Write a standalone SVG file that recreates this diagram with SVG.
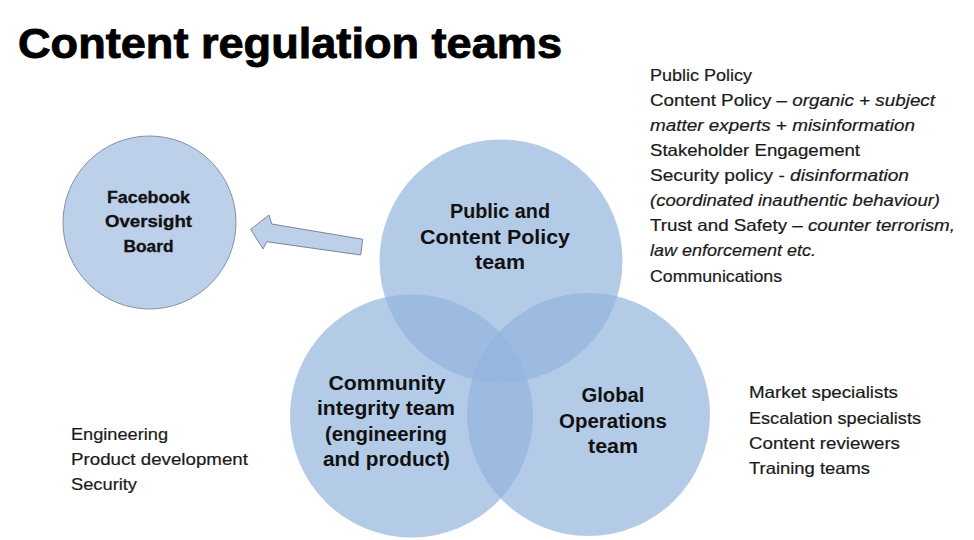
<svg xmlns="http://www.w3.org/2000/svg" width="974" height="540" viewBox="0 0 974 540">
<style>
.title{font-family:"Liberation Sans",Arial,sans-serif;font-weight:bold;font-size:43px;fill:#000;stroke:#000;stroke-width:0.9}
.body{font-family:"Liberation Sans",Arial,sans-serif;font-size:16.5px;fill:#1a1a1a;stroke:#1a1a1a;stroke-width:0.2}
.lbl{font-family:"Liberation Sans",Arial,sans-serif;font-weight:bold;font-size:20px;fill:#111;text-anchor:middle}
.fb{font-family:"Liberation Sans",Arial,sans-serif;font-weight:bold;font-size:16px;fill:#111;text-anchor:middle;stroke:#111;stroke-width:0.3}
.venn{fill:#92b4de;fill-opacity:0.69}
.it{font-style:italic}
</style>
<rect width="974" height="540" fill="#ffffff"/>
<text class="title" x="18" y="58" textLength="544" lengthAdjust="spacingAndGlyphs">Content regulation teams</text>

<g id="facebook-oversight-board">
<circle cx="149.5" cy="222.5" r="86.5" fill="#bcd0ea" stroke="#8391a3" stroke-width="1"/>
<text class="fb" x="148.5" y="203" textLength="83" lengthAdjust="spacingAndGlyphs">Facebook</text>
<text class="fb" x="148.5" y="227" textLength="87" lengthAdjust="spacingAndGlyphs">Oversight</text>
<text class="fb" x="148.5" y="252" textLength="50" lengthAdjust="spacingAndGlyphs">Board</text>
</g>

<g id="public-content-policy-team">
<circle class="venn" cx="501" cy="261" r="121.5"/>
</g>
<g id="community-integrity-team">
<circle class="venn" cx="411.5" cy="416" r="121.5"/>
</g>
<g id="global-operations-team">
<circle class="venn" cx="588.5" cy="414.5" r="121.5"/>
</g>

<g id="connectors">
<polygon points="250.7,229.3 269,215 271.7,224 362.7,239.3 360.7,255 266.7,241.7 263,249" fill="#bcd0ea" stroke="#7b8796" stroke-width="1"/>
</g>

<g id="circle-labels">
<text class="lbl" x="500" y="218" textLength="100" lengthAdjust="spacingAndGlyphs">Public and</text>
<text class="lbl" x="495" y="244" textLength="150" lengthAdjust="spacingAndGlyphs">Content Policy</text>
<text class="lbl" x="500" y="269" textLength="50" lengthAdjust="spacingAndGlyphs">team</text>
<text class="lbl" x="387" y="390" textLength="117" lengthAdjust="spacingAndGlyphs">Community</text>
<text class="lbl" x="386" y="415" textLength="138" lengthAdjust="spacingAndGlyphs">integrity team</text>
<text class="lbl" x="386" y="441" textLength="122" lengthAdjust="spacingAndGlyphs">(engineering</text>
<text class="lbl" x="386.5" y="466" textLength="127" lengthAdjust="spacingAndGlyphs">and product)</text>
<text class="lbl" x="613" y="402" textLength="63" lengthAdjust="spacingAndGlyphs">Global</text>
<text class="lbl" x="613" y="428" textLength="108" lengthAdjust="spacingAndGlyphs">Operations</text>
<text class="lbl" x="613" y="453" textLength="50" lengthAdjust="spacingAndGlyphs">team</text>
</g>

<g id="policy-list">
<text class="body" x="650" y="81" textLength="102" lengthAdjust="spacingAndGlyphs">Public Policy</text>
<text class="body" x="650" y="106" textLength="285" lengthAdjust="spacingAndGlyphs">Content Policy – <tspan class="it">organic</tspan> + <tspan class="it">subject</tspan></text>
<text class="body" x="650" y="131" textLength="265" lengthAdjust="spacingAndGlyphs"><tspan class="it">matter experts</tspan> + <tspan class="it">misinformation</tspan></text>
<text class="body" x="650" y="156" textLength="210" lengthAdjust="spacingAndGlyphs">Stakeholder Engagement</text>
<text class="body" x="650" y="181" textLength="259" lengthAdjust="spacingAndGlyphs">Security policy - <tspan class="it">disinformation</tspan></text>
<text class="body it" x="650" y="206" textLength="290" lengthAdjust="spacingAndGlyphs">(coordinated inauthentic behaviour)</text>
<text class="body" x="650" y="231" textLength="305" lengthAdjust="spacingAndGlyphs">Trust and Safety – <tspan class="it">counter terrorism,</tspan></text>
<text class="body it" x="650" y="256" textLength="166" lengthAdjust="spacingAndGlyphs">law enforcement etc.</text>
<text class="body" x="650" y="282" textLength="132" lengthAdjust="spacingAndGlyphs">Communications</text>
</g>

<g id="operations-list">
<text class="body" x="749" y="398" textLength="149" lengthAdjust="spacingAndGlyphs">Market specialists</text>
<text class="body" x="749" y="424" textLength="172" lengthAdjust="spacingAndGlyphs">Escalation specialists</text>
<text class="body" x="749" y="449" textLength="151" lengthAdjust="spacingAndGlyphs">Content reviewers</text>
<text class="body" x="749" y="474" textLength="121" lengthAdjust="spacingAndGlyphs">Training teams</text>
</g>

<g id="engineering-list">
<text class="body" x="71" y="440" textLength="97" lengthAdjust="spacingAndGlyphs">Engineering</text>
<text class="body" x="71" y="465" textLength="177" lengthAdjust="spacingAndGlyphs">Product development</text>
<text class="body" x="71" y="490" textLength="66" lengthAdjust="spacingAndGlyphs">Security</text>
</g>
</svg>
